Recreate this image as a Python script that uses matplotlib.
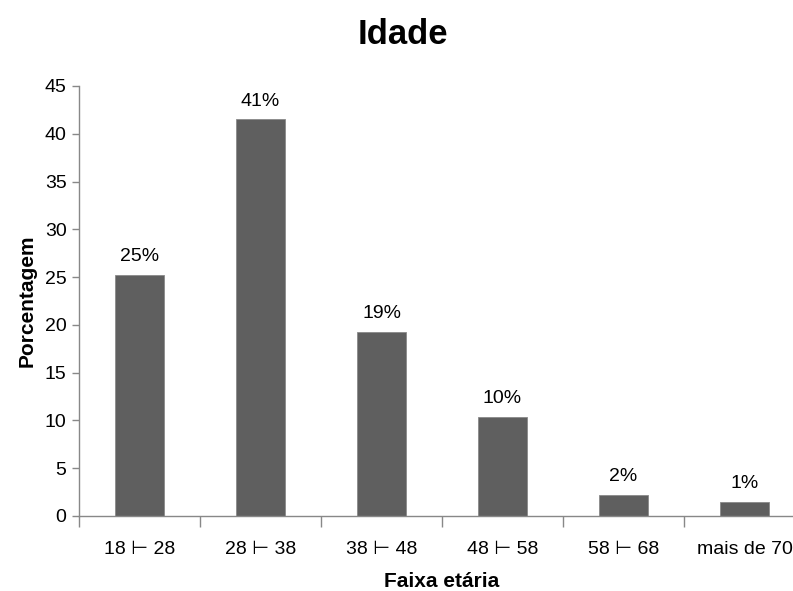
import matplotlib.pyplot as plt
import numpy as np

faixas = ["18 \u22a2 28", "28 \u22a2 38", "38 \u22a2 48", "48 \u22a2 58", "58 \u22a2 68", "mais de 70"]
porcentagem = [25.2, 41.5, 19.3, 10.4, 2.2, 1.5]
rotulos = ["25%", "41%", "19%", "10%", "2%", "1%"]

plt.rcParams['font.family'] = ['Liberation Sans Narrow', 'Liberation Sans', 'DejaVu Sans']

fig = plt.figure(figsize=(7.93, 5.91), dpi=100)
ax = fig.add_axes([79 / 793, 75 / 591, 726 / 793, 430 / 591])

x = np.arange(len(faixas))
bars = ax.bar(x, porcentagem, width=0.4, color="#5f5f5f", edgecolor="#8a8a8a", linewidth=0.6)
for b, r in zip(bars, rotulos):
    ax.annotate(r, (b.get_x() + b.get_width() / 2, b.get_height()), xytext=(0, 7),
                textcoords="offset points", ha="center", va="bottom", fontsize=14)

ax.set_xlim(-0.5, len(faixas) - 0.5)
ax.set_ylim(0, 45)
ax.set_yticks(range(0, 46, 5))
ax.set_xticks(x)
ax.set_xticklabels(faixas, fontsize=14)
ax.set_xticks(np.arange(-0.5, len(faixas), 1), minor=True)
ax.tick_params(axis="x", which="major", length=0, pad=18)
ax.tick_params(axis="x", which="minor", length=8, color="#888888", width=1)
ax.tick_params(axis="y", length=5, color="#888888", width=1, labelsize=14, pad=4)

for s in ["top", "right"]:
    ax.spines[s].set_visible(False)
for s in ["left", "bottom"]:
    ax.spines[s].set_color("#888888")
    ax.spines[s].set_linewidth(1)

ax.set_xlabel("Faixa et\u00e1ria", fontsize=15, fontweight="bold", labelpad=10)
ax.set_ylabel("Porcentagem", fontsize=15, fontweight="bold", labelpad=6)
fig.text(403 / 793, 1 - 35 / 591, "Idade", fontsize=25, fontweight="bold", ha="center", va="center")

fig.savefig("out.png", dpi=100)
